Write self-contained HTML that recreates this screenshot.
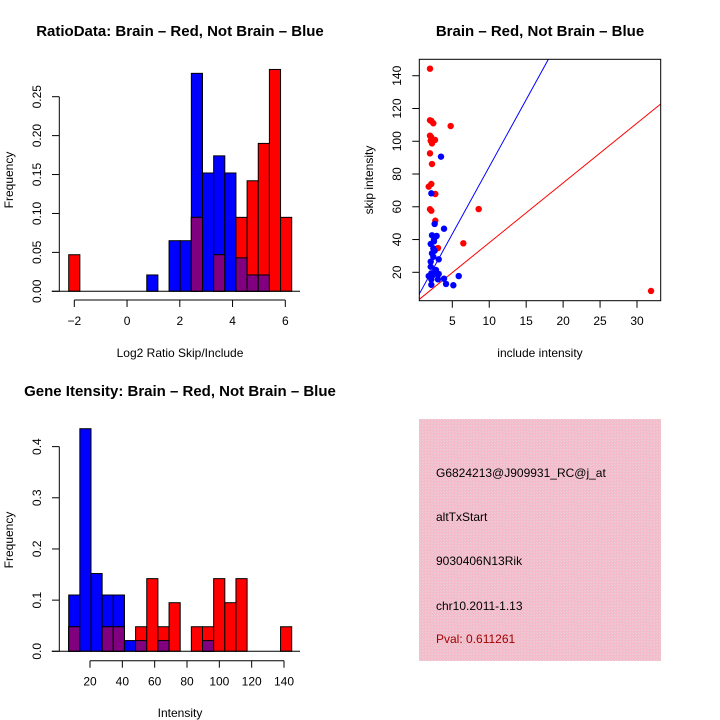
<!DOCTYPE html>
<html><head><meta charset="utf-8"><style>
html,body{margin:0;padding:0;background:#fff;}
svg{display:block;font-family:"Liberation Sans",sans-serif;}
</style></head><body>
<svg id="s" width="720" height="720" viewBox="0 0 720 720" xmlns="http://www.w3.org/2000/svg">
<defs><pattern id="hatch" width="3" height="3" patternUnits="userSpaceOnUse"><rect width="3" height="3" fill="#f4bccb"/><rect width="1" height="1" fill="#e8d0d6"/><rect x="2" y="2" width="1" height="1" fill="#e8d0d6"/></pattern></defs>
<text x="180" y="36" text-anchor="middle" font-size="15" font-weight="bold">RatioData: Brain – Red, Not Brain – Blue</text>
<text x="540" y="36" text-anchor="middle" font-size="15" font-weight="bold">Brain – Red, Not Brain – Blue</text>
<text x="180" y="396" text-anchor="middle" font-size="15" font-weight="bold">Gene Itensity: Brain – Red, Not Brain – Blue</text>
<text x="180" y="357" text-anchor="middle" font-size="12">Log2 Ratio Skip/Include</text>
<text x="180" y="717" text-anchor="middle" font-size="12">Intensity</text>
<text x="540" y="357" text-anchor="middle" font-size="12">include intensity</text>
<text transform="translate(13,180) rotate(-90)" text-anchor="middle" font-size="12">Frequency</text>
<text transform="translate(13,540) rotate(-90)" text-anchor="middle" font-size="12">Frequency</text>
<text transform="translate(373,180) rotate(-90)" text-anchor="middle" font-size="12">skip intensity</text>
<g>
<rect x="419" y="419" width="242" height="242" fill="url(#hatch)"/>
<text x="436" y="477" font-size="12">G6824213@J909931_RC@j_at</text>
<text x="436" y="521" font-size="12">altTxStart</text>
<text x="436" y="565" font-size="12">9030406N13Rik</text>
<text x="436" y="610" font-size="12">chr10.2011-1.13</text>
<text x="436" y="643" font-size="12" fill="#a00000">Pval: 0.611261</text>
</g>
</svg>
<script>
// Ratio histogram (20 bins)
const ratioBlue=[0,0,0,0,0,0,0,0.021,0,0.065,0.065,0.28,0.152,0.174,0.152,0.043,0.021,0.021,0,0];
const ratioRed=[0.047,0,0,0,0,0,0,0,0,0,0,0.095,0,0.047,0,0.095,0.142,0.19,0.285,0.095];
const ratioXTicks=[-2,0,2,4,6];
const ratioYTicks=["0.00","0.05","0.10","0.15","0.20","0.25"];
// Intensity histogram (20 bins)
const intBlue=[0.11,0.435,0.152,0.11,0.11,0.021,0.021,0,0.021,0,0,0,0.021,0,0,0,0,0,0,0];
const intRed=[0.048,0,0,0.048,0.048,0,0.048,0.142,0.048,0.095,0,0.048,0.048,0.142,0.095,0.142,0,0,0,0.048];
const intXTicks=[20,40,60,80,100,120,140];
const intYTicks=["0.0","0.1","0.2","0.3","0.4"];
// Scatter
const redX=[1.98,1.98,2.16,2.43,4.78,1.98,2.16,2.08,2.25,2.66,1.98,2.25,2.16,1.81,2.7,1.98,2.16,2.7,8.57,3.06,6.49,31.9];
const redY=[144.3,112.8,112.4,111,109.3,103.4,102.4,100.3,98.7,100.8,92.6,86.1,73.9,72.3,67.8,58.5,57.6,51.5,58.6,34.8,37.7,8.6];
const blueX=[3.47,2.16,2.61,3.88,2.25,2.88,2.52,2.43,2.25,2.61,2.08,3.16,2.08,2.79,1.81,2.16,3.16,3.88,5.14,4.15,2.16,3.06,5.87,2.52,2.08,2.43,2.35,2.16,2.97];
const blueY=[90.6,68.2,49.5,46.6,42.6,42.2,38.9,34.6,31.6,33.2,26.5,27.9,23.4,21.4,17.7,19.4,19,16.1,12.1,12.9,12.4,15.7,17.7,39.7,37.3,29.5,18.2,15.7,19];
const lineSlopes=[8.2,3.65];
const lineIntercepts=[2.4,1.56];
const scatterXTicks=[5,10,15,20,25,30];
const scatterYTicks=[20,40,60,80,100,120,140];

const NS="http://www.w3.org/2000/svg";
const svg=document.getElementById('s');
function mk(tag,attrs,parent){const e=document.createElementNS(NS,tag);for(const k in attrs)e.setAttribute(k,attrs[k]);(parent||svg).appendChild(e);return e;}

function hist(blue,red,bx0,bw,y0,yScale,xAxisY,xTicks,xMap,yTicks,yStep,prefix){
  const g=mk('g',{});
  
  
  const y=v=>y0-v*yScale;
  for(let k=0;k<blue.length;k++){
    const b=blue[k],r=red[k],x=bx0+k*bw;
    if(b>0){const e=mk('rect',{x:x,y:y(b),width:bw,height:y0-y(b),fill:'#0000ff',stroke:'#000','stroke-width':1},g);
      
      }
    if(r>0){const e=mk('rect',{x:x,y:y(r),width:bw,height:y0-y(r),fill:'#ff0000',stroke:'#000','stroke-width':1},g);
      
      }
    const m=Math.min(b,r);
    if(m>0){const e=mk('rect',{x:x,y:y(m),width:bw,height:y0-y(m),fill:'#800080',stroke:'#000','stroke-width':1},g);
      
      }
  }
  mk('line',{x1:51.7,x2:300,y1:y0,y2:y0,stroke:'#000','stroke-width':1},g);
  const ax=mk('g',{},g);
  
  
  mk('line',{x1:xMap(xTicks[0]),x2:xMap(xTicks[xTicks.length-1]),y1:xAxisY,y2:xAxisY,stroke:'#000'},ax);
  xTicks.forEach(t=>{const px=xMap(t);mk('line',{x1:px,x2:px,y1:xAxisY,y2:xAxisY+7,stroke:'#000'},ax);
    const tx=mk('text',{x:px,y:xAxisY+25,'text-anchor':'middle','font-size':12},ax);tx.textContent=String(t).replace('-','\u2212');});
  const ay=mk('g',{},g);
  
  
  const top=y((yTicks.length-1)*yStep);
  mk('line',{x1:59.3,x2:59.3,y1:y0,y2:top,stroke:'#000'},ay);
  yTicks.forEach((t,i)=>{const py=y(i*yStep);mk('line',{x1:52,x2:59.3,y1:py,y2:py,stroke:'#000'},ay);
    const tx=mk('text',{transform:`translate(41,${py}) rotate(-90)`,'text-anchor':'middle','font-size':12},ay);tx.textContent=t;});
}
hist(ratioBlue,ratioRed,68.7,11.15,291.3,778.4,300,ratioXTicks,v=>74.3+(v+2)*26.375,ratioYTicks,0.05,'ratio');
hist(intBlue,intRed,68.7,11.15,651.3,511.7,660.7,intXTicks,v=>90+(v-20)*1.6167,intYTicks,0.1,'intensity');

const sx=v=>452.3+(v-5)*7.388, sy=v=>272.3-(v-20)*1.638;
const sg=mk('g',{});


mk('clipPath',{id:'sc'},sg);
mk('rect',{x:419.3,y:59.3,width:241.4,height:241.4},document.getElementById('sc'));
const lc=['#0000ff','#ff0000'];
const ln=['blue-fit-line','red-fit-line'];
lineSlopes.forEach((m,i)=>{const x0=0,x1=40;
  const l=mk('line',{x1:sx(x0),y1:sy(lineIntercepts[i]+m*x0),x2:sx(x1),y2:sy(lineIntercepts[i]+m*x1),stroke:lc[i],'stroke-width':1,'clip-path':'url(#sc)'},sg);
  
  });
redX.forEach((v,i)=>{const c=mk('circle',{cx:sx(v),cy:sy(redY[i]),r:3.2,fill:'#ff0000','clip-path':'url(#sc)'},sg);
  
  });
blueX.forEach((v,i)=>{const c=mk('circle',{cx:sx(v),cy:sy(blueY[i]),r:3.2,fill:'#0000ff','clip-path':'url(#sc)'},sg);
  
  });
mk('rect',{x:419.3,y:59.3,width:241.4,height:241.4,fill:'none',stroke:'#000'},sg);
scatterXTicks.forEach(t=>{const px=sx(t);mk('line',{x1:px,x2:px,y1:300.7,y2:307.7,stroke:'#000'},sg);
  const tx=mk('text',{x:px,y:325,'text-anchor':'middle','font-size':12},sg);tx.textContent=t;});
scatterYTicks.forEach(t=>{const py=sy(t);mk('line',{x1:412.3,x2:419.3,y1:py,y2:py,stroke:'#000'},sg);
  const tx=mk('text',{transform:`translate(401,${py}) rotate(-90)`,'text-anchor':'middle','font-size':12},sg);tx.textContent=t;});
</script>
</body></html>
